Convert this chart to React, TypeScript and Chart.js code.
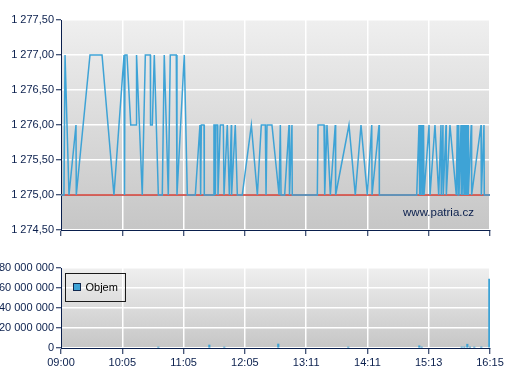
import React, { useEffect, useRef } from "react";
import { Chart, registerables } from "chart.js";

Chart.register(...registerables);

// ---------- data ----------
const tickLabels = ["09:00", "10:05", "11:05", "12:05", "13:11", "14:11", "15:13", "16:15"];
const sessionMinutes = 435; // 09:00 -> 16:15

// trade time (minutes after 09:00) and price
const priceTimes = [
  0, 3.0, 4.1, 8.1, 15.2, 15.5, 29.4, 41.6, 53.7, 63.9, 64.4, 64.9, 66.9, 70.7, 76.4, 76.6,
  82.4, 85.5, 90.6, 90.8, 92.6, 94.6, 98.7, 102.7, 104.7, 108.8, 110.8, 116.9, 117.6, 125.0,
  128.1, 136.2, 140.9, 141.6, 142.3, 145.0, 145.3, 154.4, 155.1, 156.2, 156.5, 157.2, 158.9,
  159.2, 161.5, 164.6, 165.3, 168.6, 170.7, 172.7, 173.0, 176.7, 178.8, 183.8, 193.0, 199.1,
  203.1, 207.2, 207.9, 208.9, 213.9, 221.1, 222.4, 223.1, 226.8, 231.2, 231.7, 234.2, 234.5,
  259.9, 260.6, 266.7, 267.4, 269.7, 273.1, 278.1, 278.5, 292.0, 298.4, 304.2, 310.6, 315.1,
  315.4, 322.5, 322.8, 360.7, 363.0, 363.7, 364.3, 364.7, 366.1, 366.4, 367.1, 367.4, 367.8,
  368.1, 373.2, 374.2, 379.2, 383.0, 385.3, 385.6, 387.3, 387.6, 390.4, 390.7, 394.4, 400.8,
  401.8, 402.6, 403.3, 403.6, 405.6, 405.9, 407.4, 407.6, 409.0, 409.4, 410.0, 410.4, 410.7,
  411.0, 411.7, 412.0, 412.7, 413.0, 416.0, 416.4, 425.9, 426.2, 428.9, 429.2, 435,
];
const prices = [
  1275, 1275, 1277, 1275, 1276, 1275, 1277, 1277, 1275, 1277, 1275, 1277, 1277, 1276, 1276, 1277,
  1275, 1277, 1277, 1276, 1276, 1277, 1275, 1275, 1277, 1275, 1277, 1277, 1275, 1277,
  1275, 1275, 1276, 1275, 1276, 1276, 1275, 1275, 1276, 1276, 1275, 1276, 1276,
  1275, 1276, 1276, 1275, 1276, 1275, 1276, 1275, 1276, 1275, 1275, 1276, 1275,
  1276, 1276, 1275, 1276, 1276, 1275, 1276, 1275, 1275, 1276, 1275, 1276, 1275,
  1275, 1276, 1276, 1275, 1276, 1275, 1276, 1275, 1276, 1275, 1276, 1275, 1276,
  1275, 1276, 1275, 1275, 1276, 1275, 1276, 1275, 1276, 1275, 1276, 1275, 1276,
  1275, 1276, 1275, 1276, 1275, 1276, 1275, 1276, 1275, 1276, 1275, 1276, 1275,
  1276, 1275, 1276, 1275, 1276, 1275, 1276, 1275, 1276, 1275, 1276, 1275, 1276,
  1275, 1276, 1275, 1276, 1275, 1276, 1275, 1276, 1275, 1276, 1275, 1275,
];
const referencePrice = 1275;
const priceMin = 1274.5;
const priceMax = 1277.5;
const priceStep = 0.5;

const volumeTimes = [98.7, 150.4, 165.6, 220.3, 291.3, 363.3, 365.7, 406.3, 409.0, 412.0, 414.7, 419.1, 426.2, 434.3];
const volumes = [1000000, 3000000, 1000000, 4000000, 1000000, 2200000, 1000000, 1000000, 1000000, 3800000, 1000000, 1000000, 1000000, 69000000];
const volumeMax = 80000000;
const volumeStep = 20000000;
const volumeLabel = "Objem";
const watermark = "www.patria.cz";

// ---------- styling ----------
const NAVY = "#0a1f4d";
const BLUE = "#3ea3d6";
const RED = "#c83228";
const FONT = "'Liberation Sans', Arial, sans-serif";

const groupThousands = (s: string) => s.replace(/\B(?=(\d{3})+(?!\d))/g, " ");
const fmtPrice = (v: number) => {
  const [i, d] = v.toFixed(2).split(".");
  return groupThousands(i) + "," + d;
};
const fmtVolume = (v: number) => groupThousands(String(Math.round(v)));

const bgPlugin = {
  id: "plotBg",
  beforeDraw(chart: any) {
    const { ctx, chartArea: a } = chart;
    const g = ctx.createLinearGradient(0, a.top, 0, a.bottom);
    g.addColorStop(0, "#efefef");
    g.addColorStop(1, "#c6c6c6");
    ctx.save();
    ctx.fillStyle = g;
    ctx.fillRect(a.left, a.top, a.right - a.left, a.bottom - a.top);
    ctx.restore();
  },
};

const xTicksAfterBuild = (scale: any) => {
  scale.ticks = tickLabels.map((_, i) => ({ value: (i * sessionMinutes) / (tickLabels.length - 1) }));
};

export default function App() {
  const topRef = useRef<HTMLCanvasElement>(null);
  const botRef = useRef<HTMLCanvasElement>(null);

  useEffect(() => {
    const watermarkPlugin = {
      id: "watermark",
      afterDatasetsDraw(chart: any) {
        const { ctx, chartArea: a } = chart;
        ctx.save();
        ctx.font = `11.5px ${FONT}`;
        ctx.fillStyle = NAVY;
        ctx.textAlign = "right";
        ctx.textBaseline = "middle";
        ctx.fillText(watermark, a.right - 16, a.bottom - 17);
        ctx.restore();
      },
    };

    const top = new Chart(topRef.current!, {
      type: "line",
      data: {
        datasets: [
          {
            data: priceTimes.map((t, i) => ({ x: t, y: prices[i] })),
            borderColor: BLUE,
            borderWidth: 1.5,
            pointRadius: 0,
            tension: 0,
            order: 0,
          },
          {
            data: [
              { x: 0, y: referencePrice },
              { x: sessionMinutes, y: referencePrice },
            ],
            borderColor: RED,
            borderWidth: 1.5,
            pointRadius: 0,
            order: 1,
          },
        ],
      },
      options: {
        responsive: false,
        animation: false,
        events: [],
        layout: { padding: { top: 20, right: 17, left: 0, bottom: 0 } },
        plugins: { legend: { display: false }, tooltip: { enabled: false } },
        scales: {
          x: {
            type: "linear",
            min: 0,
            max: sessionMinutes,
            afterBuildTicks: xTicksAfterBuild,
            afterFit: (s: any) => {
              s.height = 10;
            },
            ticks: { display: false },
            grid: { color: "#ffffff", lineWidth: 1.5, tickColor: NAVY, tickLength: 6, tickWidth: 1 },
            border: { color: NAVY, width: 1 },
          },
          y: {
            min: priceMin,
            max: priceMax,
            afterFit: (s: any) => {
              s.width = 61;
            },
            ticks: {
              stepSize: priceStep,
              callback: (v: any) => fmtPrice(Number(v)),
              color: NAVY,
              font: { family: FONT, size: 11 },
              padding: 2,
            },
            grid: { color: "#ffffff", lineWidth: 1.5, tickColor: NAVY, tickLength: 5, tickWidth: 1 },
            border: { color: NAVY, width: 1 },
          },
        },
      },
      plugins: [bgPlugin, watermarkPlugin],
    } as any);

    const legendPlugin = {
      id: "boxLegend",
      afterDraw(chart: any) {
        const { ctx, chartArea: a } = chart;
        const x = a.left + 4.5;
        const y = a.top + 5.5;
        ctx.save();
        ctx.strokeStyle = "#1a1a1a";
        ctx.lineWidth = 1;
        ctx.strokeRect(x, y, 60, 28);
        ctx.fillStyle = BLUE;
        ctx.fillRect(x + 8, y + 10, 7, 7);
        ctx.strokeStyle = "#10284f";
        ctx.strokeRect(x + 8, y + 10, 7, 7);
        ctx.fillStyle = "#000000";
        ctx.font = `11px ${FONT}`;
        ctx.textBaseline = "middle";
        ctx.textAlign = "left";
        ctx.fillText(volumeLabel, x + 20, y + 14);
        ctx.restore();
      },
    };

    const bot = new Chart(botRef.current!, {
      type: "bar",
      data: {
        datasets: [
          {
            data: volumeTimes.map((t, i) => ({ x: t, y: volumes[i] })),
            backgroundColor: BLUE,
            barThickness: 1.5,
          },
        ],
      },
      options: {
        responsive: false,
        animation: false,
        events: [],
        layout: { padding: { top: 28, right: 17, left: 0, bottom: 0 } },
        plugins: { legend: { display: false }, tooltip: { enabled: false } },
        scales: {
          x: {
            type: "linear",
            min: 0,
            max: sessionMinutes,
            offset: false,
            afterBuildTicks: xTicksAfterBuild,
            afterFit: (s: any) => {
              s.height = 32;
            },
            ticks: {
              callback: (_v: any, i: number) => tickLabels[i],
              color: NAVY,
              font: { family: FONT, size: 11 },
              maxRotation: 0,
              autoSkip: false,
              padding: 2,
            },
            grid: { offset: false, color: "#ffffff", lineWidth: 1.5, tickColor: NAVY, tickLength: 6, tickWidth: 1 },
            border: { color: NAVY, width: 1 },
          },
          y: {
            min: 0,
            max: volumeMax,
            afterFit: (s: any) => {
              s.width = 61;
            },
            ticks: {
              stepSize: volumeStep,
              callback: (v: any) => fmtVolume(Number(v)),
              color: NAVY,
              font: { family: FONT, size: 11 },
              padding: 2,
            },
            grid: { color: "#ffffff", lineWidth: 1.5, tickColor: NAVY, tickLength: 5, tickWidth: 1 },
            border: { color: NAVY, width: 1 },
          },
        },
      },
      plugins: [bgPlugin, legendPlugin],
    } as any);

    return () => {
      top.destroy();
      bot.destroy();
    };
  }, []);

  return (
    <div style={{ position: "absolute", left: 0, top: 0, width: 507, height: 380, background: "#ffffff" }}>
      <canvas ref={topRef} width={507} height={240} style={{ position: "absolute", left: 0, top: 0 }} />
      <canvas ref={botRef} width={507} height={140} style={{ position: "absolute", left: 0, top: 240 }} />
    </div>
  );
}
